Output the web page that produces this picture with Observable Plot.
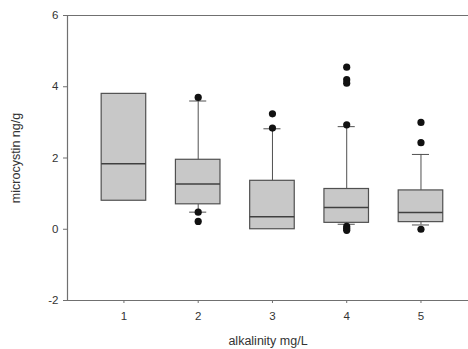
<!DOCTYPE html>
<html><head><meta charset="utf-8">
<script src="https://cdn.jsdelivr.net/npm/d3@7"></script>
<script src="https://cdn.jsdelivr.net/npm/@observablehq/plot@0.6"></script>
<style>body{margin:0;background:#fff;font-family:"Liberation Sans",Arial,sans-serif;}</style>
</head><body><div id="chart"></div>
<script>
const categories = [1, 2, 3, 4, 5];
const q1 = [0.80, 0.70, 0.00, 0.18, 0.20];
const median = [1.84, 1.27, 0.35, 0.61, 0.47];
const q3 = [3.80, 1.95, 1.36, 1.13, 1.09];
const whiskerLow = [null, 0.48, null, 0.14, 0.12];
const whiskerHigh = [null, 3.60, 2.82, 2.88, 2.10];
const outlierCat = [2, 2, 2, 3, 3, 4, 4, 4, 4, 4, 4, 4, 5, 5, 5];
const outlierVal = [3.70, 0.48, 0.22, 3.24, 2.84, 4.55, 4.20, 4.10, 2.93, 0.08, 0.02, -0.03, 3.00, 2.43, 0.00];
const yTicks = [-2, 0, 2, 4, 6];

const boxes = categories.map((c, i) => ({c, q1: q1[i], med: median[i], q3: q3[i], lo: whiskerLow[i], hi: whiskerHigh[i]}));
const outliers = outlierCat.map((c, i) => ({c, v: outlierVal[i]}));
const xDom = [0.24, 5.64];
const bw = 0.3, cw = 0.115;
const lineC = "#707070", boxC = "#505050";

const chart = Plot.plot({
  width: 468, height: 349,
  marginTop: 15, marginBottom: 49, marginLeft: 67, marginRight: 0,
  style: {fontFamily: "Liberation Sans, Arial, sans-serif", fontSize: "12px", color: "#333", background: "#fff"},
  x: {domain: xDom, label: null},
  y: {domain: [-2, 6], label: null},
  marks: [
    Plot.ruleY([6], {stroke: lineC, strokeWidth: 1.2}),
    Plot.ruleY([-2], {stroke: lineC, strokeWidth: 1.2}),
    Plot.ruleX([xDom[0]], {stroke: lineC, strokeWidth: 1.2}),
    Plot.axisY({ticks: yTicks, tickSize: 4, tickPadding: 5, stroke: lineC, fontSize: 11.5, tickFormat: d => String(d), label: null}),
    Plot.axisY({ticks: [], label: "microcystin ng/g", labelAnchor: "center", labelArrow: "none", labelOffset: 56, fontSize: 12.5}),
    Plot.axisX({ticks: categories, tickSize: 3, tickPadding: 8, stroke: lineC, fontSize: 11.5, tickFormat: d => String(d), label: null}),
    Plot.axisX({ticks: [], label: "alkalinity mg/L", labelAnchor: "center", labelArrow: "none", labelOffset: 44, fontSize: 12.5}),
    Plot.ruleX(boxes.filter(d => d.hi != null), {x: "c", y1: "q3", y2: "hi", stroke: boxC}),
    Plot.ruleX(boxes.filter(d => d.lo != null), {x: "c", y1: "q1", y2: "lo", stroke: boxC}),
    Plot.ruleY(boxes.filter(d => d.hi != null), {y: "hi", x1: d => d.c - cw, x2: d => d.c + cw, stroke: boxC}),
    Plot.ruleY(boxes.filter(d => d.lo != null), {y: "lo", x1: d => d.c - cw, x2: d => d.c + cw, stroke: boxC}),
    Plot.rectY(boxes, {x1: d => d.c - bw, x2: d => d.c + bw, y1: "q1", y2: "q3", fill: "#c8c8c8", stroke: boxC, strokeWidth: 1.2}),
    Plot.ruleY(boxes, {y: "med", x1: d => d.c - bw, x2: d => d.c + bw, stroke: "#404040", strokeWidth: 1.5}),
    Plot.dot(outliers, {x: "c", y: "v", r: 3.6, fill: "#111", stroke: "none"})
  ]
});
document.getElementById("chart").appendChild(chart);
</script></body></html>
